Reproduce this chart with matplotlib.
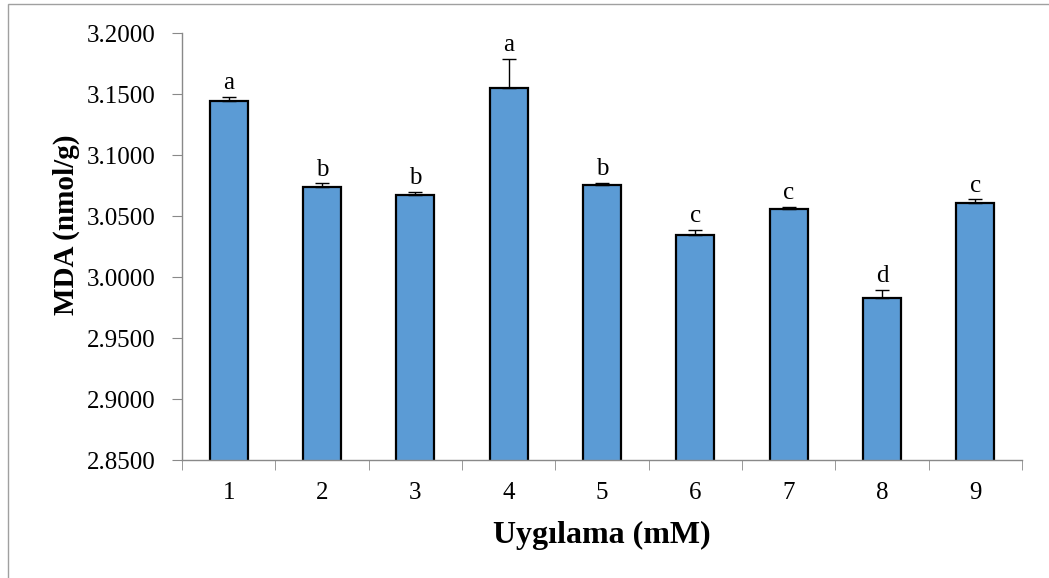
import numpy as np
import matplotlib.pyplot as plt
from matplotlib.patches import Rectangle

# Veriler
uygulama = ['1', '2', '3', '4', '5', '6', '7', '8', '9']
mda = [3.1443, 3.0735, 3.0672, 3.1547, 3.0757, 3.0344, 3.0560, 2.9830, 3.0607]
hata = [0.0035, 0.0033, 0.0027, 0.0238, 0.0016, 0.0040, 0.0016, 0.0063, 0.0030]
harfler = ['a', 'b', 'b', 'a', 'b', 'c', 'c', 'd', 'c']

plt.rcParams['font.family'] = ['Liberation Serif', 'DejaVu Serif']

fig = plt.figure(figsize=(10.49, 5.78), dpi=100)
ax = fig.add_axes([182/1049, 1 - 460/578, 840/1049, 427/578])

# dış çerçeve
fig.patches.append(Rectangle((8/1049, -0.1), 1.2, 1 - 4/578 + 0.1, transform=fig.transFigure,
                             fill=False, edgecolor='#a0a0a0', linewidth=1))

x = np.arange(len(uygulama))
ax.bar(x, mda, width=0.41, color='#5B9BD5', edgecolor='black', linewidth=1.6, zorder=2)
ax.errorbar(x, mda, yerr=[np.zeros(len(hata)), hata], fmt='none', ecolor='black',
            elinewidth=1, capsize=5, capthick=1, zorder=3)

for xi, yi, e, h in zip(x, mda, hata, harfler):
    ax.annotate(h, (xi, yi + e), xytext=(0, 2), textcoords='offset points',
                ha='center', va='bottom', fontsize=18)

ax.set_xlim(-0.5, len(uygulama) - 0.5)
ax.set_ylim(2.85, 3.20)
ax.set_yticks(np.arange(2.85, 3.2001, 0.05))
ax.set_yticklabels([f'{v:.4f}' for v in np.arange(2.85, 3.2001, 0.05)], fontsize=18)
ax.set_xticks(x)
ax.set_xticklabels(uygulama, fontsize=18)
ax.set_xticks(np.arange(-0.5, len(uygulama)), minor=True)
ax.tick_params(axis='x', which='major', length=0, pad=16)
ax.tick_params(axis='x', which='minor', length=7, color='#898989', direction='out')
ax.tick_params(axis='y', length=7, color='#898989', direction='out', pad=12)

for s in ['top', 'right']:
    ax.spines[s].set_visible(False)
for s in ['left', 'bottom']:
    ax.spines[s].set_color('#898989')
    ax.spines[s].set_linewidth(1)

ax.set_xlabel('Uygılama (mM)', fontsize=23, fontweight='bold', labelpad=12)
ax.set_ylabel('MDA (nmol/g)', fontsize=21, fontweight='bold')
ax.yaxis.set_label_coords(-0.122, 0.55)

fig.savefig('out.png', dpi=100)
